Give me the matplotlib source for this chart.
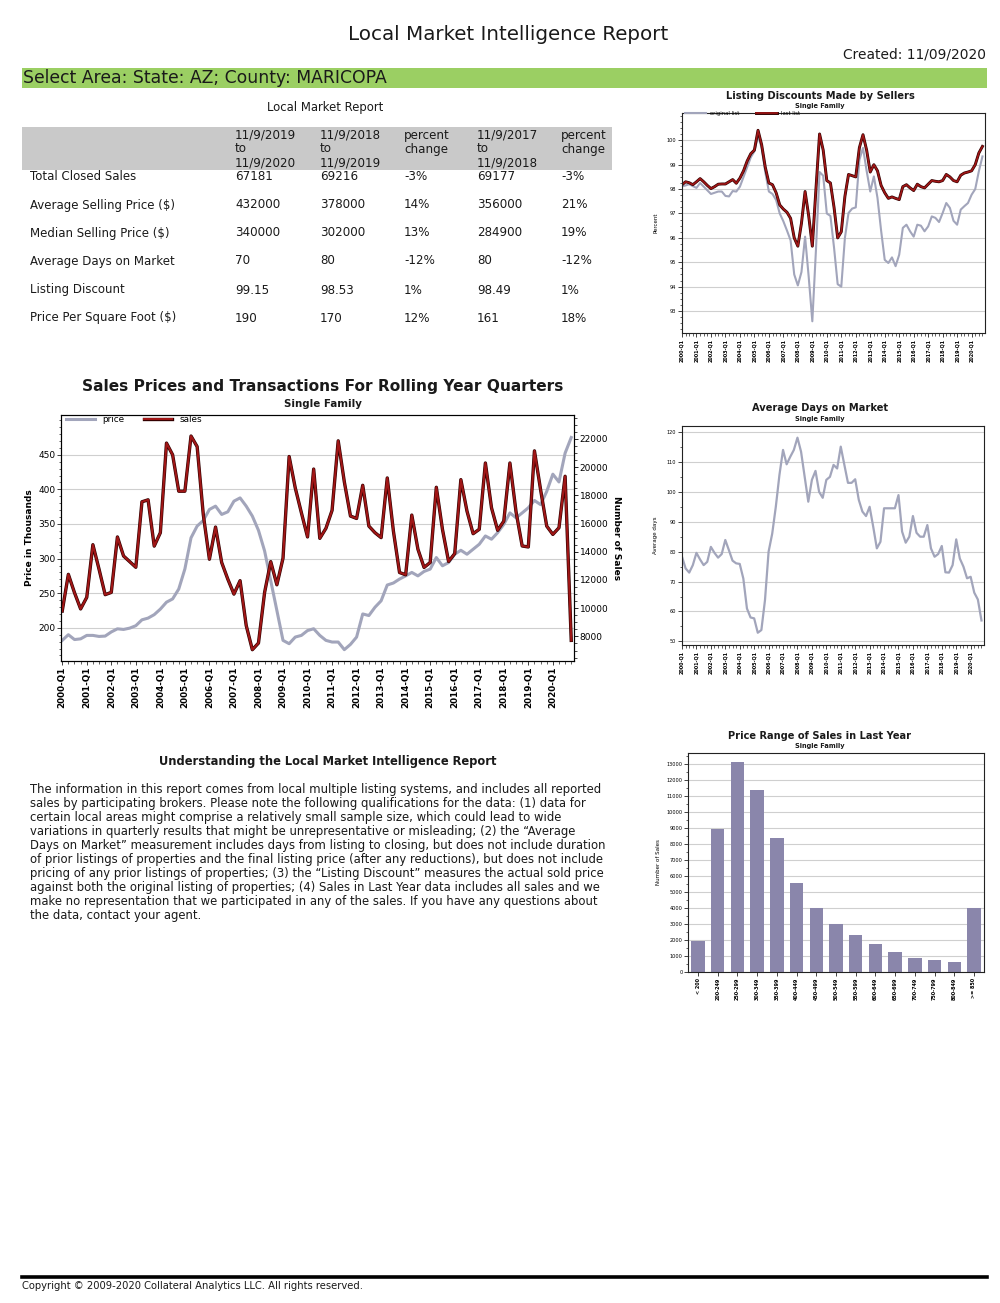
import matplotlib
matplotlib.use('Agg')
import matplotlib.pyplot as plt
import matplotlib.patheffects as pe
from matplotlib.patches import Rectangle
from matplotlib.lines import Line2D
from matplotlib.ticker import MultipleLocator
import numpy as np

# ---- data ----
year_ticks = [f'{y}-Q1' for y in range(2000, 2021)]

# rolling-year quarters 2000-Q1 .. 2020-Q4
price = [181.8, 190, 183, 184, 189, 189, 187.5, 188, 194, 198.5,
         197.6, 199.5, 203, 211.5, 214, 219, 227, 237, 241.7, 256,
         285, 330, 347, 355, 371, 375.8, 363.8, 367.6, 383, 387.7,
         375.8, 361.4, 340.8, 311, 268, 225, 181.8, 177, 186.6, 189,
         196, 198.6, 189, 181.8, 179.4, 179.4, 168.4, 176, 186.6, 220,
         217.7, 229.7, 239, 261.8, 264.7, 270.4, 275, 280, 275, 281.4,
         284.8, 301.5, 289.6, 294.3, 306.3, 312, 306.3, 313.5, 320.7, 332.7,
         328, 337.5, 349.4, 366, 359, 366, 373.4, 384, 378, 397,
         422, 410.7, 452.4, 475]
sales = [9800, 12400, 11100, 9950, 10770, 14500, 12770, 10960, 11120, 15050,
         13700, 13300, 12900, 17540, 17680, 14400, 15350, 21700, 20870, 18290,
         18290, 22200, 21450, 16640, 13470, 15750, 13240, 12060, 11000, 11950,
         8775, 7060, 7530, 11120, 13300, 11660, 13540, 20750, 18520, 16760,
         15050, 19860, 14950, 15660, 16930, 21860, 18950, 16530, 16360, 18710,
         15820, 15350, 15000, 19230, 15470, 12530, 12370, 16600, 14180, 12890,
         13240, 18570, 15590, 13310, 13870, 19110, 16880, 15280, 15590, 20290,
         17110, 15520, 16170, 20290, 16830, 14410, 14340, 21150, 18400, 15820,
         15230, 15700, 19350, 7720]

original_list = [98.11, 98.15, 98.20, 98.12, 98.05, 98.25, 98.10, 97.95, 97.80, 97.85,
                 97.90, 97.90, 97.72, 97.70, 97.92, 97.90, 98.10, 98.50, 98.90, 99.30,
                 99.55, 100.20, 99.69, 98.70, 97.90, 97.80, 97.55, 97.00, 96.68, 96.30,
                 95.90, 94.50, 94.05, 94.60, 96.05, 94.40, 92.58, 95.50, 98.70, 98.55,
                 97.00, 96.90, 95.60, 94.10, 94.00, 96.00, 97.02, 97.20, 97.25, 99.20,
                 99.69, 98.75, 97.90, 98.52, 97.64, 96.30, 95.10, 94.97, 95.20, 94.84,
                 95.31, 96.41, 96.54, 96.27, 96.05, 96.54, 96.50, 96.27, 96.47, 96.88,
                 96.82, 96.65, 97.02, 97.43, 97.23, 96.70, 96.54, 97.16, 97.30, 97.43,
                 97.77, 98.00, 98.73, 99.34]
last_list = [98.18, 98.30, 98.26, 98.18, 98.30, 98.43, 98.30, 98.15, 98.02, 98.10,
             98.20, 98.21, 98.21, 98.30, 98.39, 98.24, 98.45, 98.75, 99.15, 99.45,
             99.60, 100.41, 99.82, 98.90, 98.25, 98.18, 97.85, 97.35, 97.18, 97.05,
             96.80, 96.00, 95.66, 96.60, 97.90, 96.90, 95.66, 98.00, 100.26, 99.60,
             98.35, 98.25, 97.25, 96.00, 96.25, 97.70, 98.60, 98.55, 98.50, 99.70,
             100.23, 99.60, 98.70, 99.00, 98.75, 98.15, 97.85, 97.62, 97.68, 97.62,
             97.57, 98.10, 98.18, 98.05, 97.94, 98.20, 98.10, 98.05, 98.20, 98.35,
             98.32, 98.30, 98.35, 98.60, 98.50, 98.35, 98.30, 98.57, 98.66, 98.70,
             98.75, 99.00, 99.48, 99.75]

avg_days = [78.3, 74.4, 73.0, 75.5, 79.6, 77.4, 75.5, 76.6, 81.6, 79.6,
            78.0, 79.2, 83.9, 80.5, 77.0, 76.1, 75.9, 71.0, 61.0, 58.0,
            57.7, 52.9, 53.8, 63.8, 80.0, 86.0, 95.0, 105.6, 114.0, 109.2,
            111.7, 114.0, 118.1, 113.4, 105.0, 96.7, 104.0, 107.0, 100.0, 98.0,
            104.0, 105.0, 109.0, 107.8, 115.1, 109.0, 103.0, 103.0, 104.2, 97.3,
            93.4, 91.9, 95.0, 88.3, 81.1, 83.3, 94.5, 94.5, 94.5, 94.5,
            98.9, 86.7, 83.0, 85.0, 91.9, 86.3, 85.0, 85.0, 88.9, 81.1,
            78.3, 79.2, 81.9, 73.1, 73.0, 75.5, 84.1, 77.7, 75.0, 71.1,
            71.6, 66.3, 64.0, 57.0]

price_bins = ['< 200', '200-249', '250-299', '300-349', '350-399', '400-449',
              '450-499', '500-549', '550-599', '600-649', '650-699', '700-749',
              '750-799', '800-849', '>= 850']
bin_sales = [1950, 8950, 13100, 11350, 8350, 5550, 4000, 3000, 2300, 1750,
             1250, 900, 750, 600, 4000]

row_labels = ['Total Closed Sales', 'Average Selling Price ($)', 'Median Selling Price ($)',
              'Average Days on Market', 'Listing Discount', 'Price Per Square Foot ($)']
col_headers = [['11/9/2019', 'to', '11/9/2020'], ['11/9/2018', 'to', '11/9/2019'],
               ['percent', 'change'], ['11/9/2017', 'to', '11/9/2018'], ['percent', 'change']]
year_1 = ['67181', '432000', '340000', '70', '99.15', '190']
year_2 = ['69216', '378000', '302000', '80', '98.53', '170']
change_1 = ['-3%', '14%', '13%', '-12%', '1%', '12%']
year_3 = ['69177', '356000', '284900', '80', '98.49', '161']
change_2 = ['-3%', '21%', '19%', '-12%', '1%', '18%']

notes = [
    'The information in this report comes from local multiple listing systems, and includes all reported',
    'sales by participating brokers. Please note the following qualifications for the data: (1) data for',
    'certain local areas might comprise a relatively small sample size, which could lead to wide',
    'variations in quarterly results that might be unrepresentative or misleading; (2) the \u201cAverage',
    'Days on Market\u201d measurement includes days from listing to closing, but does not include duration',
    'of prior listings of properties and the final listing price (after any reductions), but does not include',
    'pricing of any prior listings of properties; (3) the \u201cListing Discount\u201d measures the actual sold price',
    'against both the original listing of properties; (4) Sales in Last Year data includes all sales and we',
    'make no representation that we participated in any of the sales. If you have any questions about',
    'the data, contact your agent.',
]

# ---- page setup ----
W, H = 1000, 1303
plt.rcParams['font.family'] = ['DejaVu Sans']
fig = plt.figure(figsize=(W / 100, H / 100), dpi=100)
fig.patch.set_facecolor('white')

GRAY = '#a2a5bb'
RED = '#a01616'
TXT = '#1a1a1a'


def box(l, t, r, b):
    return [l / W, 1 - b / H, (r - l) / W, (b - t) / H]


def put(x, y, s, **kw):
    kw.setdefault('color', TXT)
    kw.setdefault('va', 'center')
    fig.text(x / W, 1 - y / H, s, **kw)


def rect(l, t, r, b, color):
    fig.add_artist(Rectangle((l / W, 1 - b / H), (r - l) / W, (b - t) / H,
                             transform=fig.transFigure, facecolor=color,
                             edgecolor='none', zorder=0))


def red_fx(w):
    return [pe.Stroke(linewidth=w + 0.9, foreground='#300000'), pe.Normal()]


def style_axes(ax, lab_size):
    for s in ax.spines.values():
        s.set_color('#222222')
        s.set_linewidth(0.8)
    ax.grid(axis='y', color='#cfcfcf', linewidth=0.8)
    ax.set_axisbelow(True)
    ax.tick_params(axis='both', which='major', labelsize=lab_size, length=3, width=0.6,
                   color='#222222', pad=1)
    ax.tick_params(axis='both', which='minor', length=1.8, width=0.5, color='#222222')


def quarter_xaxis(ax, size):
    ax.set_xticks(np.arange(0, len(year_ticks) * 4, 4))
    ax.set_xticklabels(year_ticks, rotation=90, fontsize=size, fontweight='bold')
    ax.xaxis.set_minor_locator(MultipleLocator(1))


# ---- header ----
put(508, 35, 'Local Market Intelligence Report', ha='center', fontsize=14.3)
put(986, 55, 'Created: 11/09/2020', ha='right', fontsize=9.9)
rect(22, 68, 987, 88, '#9bcf63')
put(23, 78, 'Select Area: State: AZ; County: MARICOPA', ha='left', fontsize=12.4)
put(325, 107, 'Local Market Report', ha='center', fontsize=8.4)

# ---- table ----
rect(22, 127, 612, 170, '#c9c9c9')
col_x = [235, 320, 404, 477, 561]
for cx, lines in zip(col_x, col_headers):
    for k, ln in enumerate(lines):
        put(cx, 135 + 14 * k, ln, ha='left', fontsize=8.6)
row_y = [177, 205, 233, 261, 290, 318]
for ry, lab, a, b, c, d, e in zip(row_y, row_labels, year_1, year_2, change_1, year_3, change_2):
    put(30, ry, lab, ha='left', fontsize=8.5)
    for cx, v in zip(col_x, [a, b, c, d, e]):
        put(cx, ry, v, ha='left', fontsize=8.6)

q = np.arange(len(price))

# ---- main chart: prices and transactions ----
put(323, 387, 'Sales Prices and Transactions For Rolling Year Quarters', ha='center',
    fontsize=11.1, fontweight='bold')
put(323, 404, 'Single Family', ha='center', fontsize=7.4, fontweight='bold')
ax = fig.add_axes(box(61, 415, 574, 661))
ax.plot(q, price, color=GRAY, lw=2.2, label='price')
ax.set_ylim(152, 507.5)
ax.set_yticks([200, 250, 300, 350, 400, 450])
ax.yaxis.set_minor_locator(MultipleLocator(10))
ax.set_xlim(-0.2, 83.45)
style_axes(ax, 6.5)
quarter_xaxis(ax, 6.3)
ax.set_ylabel('Price in Thousands', fontsize=6.5, fontweight='bold', labelpad=3)
ax2 = ax.twinx()
ax2.plot(q, sales, color=RED, lw=1.5, label='sales', path_effects=red_fx(1.5))
ax2.set_ylim(6260, 23690)
ax2.set_yticks(np.arange(8000, 22001, 2000))
ax2.yaxis.set_minor_locator(MultipleLocator(500))
ax2.tick_params(axis='y', which='major', labelsize=6.5, length=3, width=0.6, pad=1)
ax2.tick_params(axis='y', which='minor', length=1.8, width=0.5)
ax2.set_ylabel('Number of Sales', fontsize=6.5, fontweight='bold', rotation=270, labelpad=9)
h1, l1 = ax.get_legend_handles_labels()
h2, l2 = ax2.get_legend_handles_labels()
ax2.legend(h1 + h2, l1 + l2, ncol=2, loc='upper left', bbox_to_anchor=(0.0, 1.02),
           frameon=False, fontsize=6.4, handlelength=3.2, columnspacing=2.2, borderaxespad=0.2)

# ---- listing discounts ----
put(820, 96, 'Listing Discounts Made by Sellers', ha='center', fontsize=7.1, fontweight='bold')
put(820, 106, 'Single Family', ha='center', fontsize=4.8, fontweight='bold')
axl = fig.add_axes(box(682, 113, 985, 333))
axl.plot(q, original_list, color=GRAY, lw=1.5, label='original list')
axl.plot(q, last_list, color=RED, lw=1.2, label='last list', path_effects=red_fx(1.2))
axl.set_ylim(92.1, 101.12)
axl.set_yticks(np.arange(93, 101))
axl.yaxis.set_minor_locator(MultipleLocator(0.25))
axl.set_xlim(0, 83.7)
style_axes(axl, 3.6)
quarter_xaxis(axl, 3.5)
axl.set_ylabel('Percent', fontsize=4, labelpad=6)
axl.legend(ncol=2, loc='upper left', bbox_to_anchor=(0.0, 1.025), frameon=False,
           fontsize=3.8, handlelength=4, columnspacing=3, borderaxespad=0.2)

# ---- average days on market ----
put(820, 408, 'Average Days on Market', ha='center', fontsize=7.1, fontweight='bold')
put(820, 419, 'Single Family', ha='center', fontsize=4.8, fontweight='bold')
axd = fig.add_axes(box(682, 426, 984, 645))
axd.plot(q, avg_days, color=GRAY, lw=1.6)
axd.set_ylim(48.8, 122)
axd.set_yticks(np.arange(50, 121, 10))
axd.yaxis.set_minor_locator(MultipleLocator(5))
axd.set_xlim(0, 83.7)
style_axes(axd, 3.6)
quarter_xaxis(axd, 3.5)
axd.set_ylabel('Average days', fontsize=4, labelpad=6)

# ---- price range histogram ----
put(820, 736, 'Price Range of Sales in Last Year', ha='center', fontsize=7.1, fontweight='bold')
put(820, 746, 'Single Family', ha='center', fontsize=4.8, fontweight='bold')
axh = fig.add_axes(box(688, 753, 984, 972))
axh.bar(np.arange(len(price_bins)), bin_sales, width=0.68, color='#8a86ab', zorder=2)
axh.set_xlim(-0.51, len(price_bins) - 0.49)
axh.set_ylim(0, 13660)
axh.set_yticks(np.arange(0, 13001, 1000))
axh.yaxis.set_minor_locator(MultipleLocator(500))
style_axes(axh, 3.6)
axh.set_xticks(np.arange(len(price_bins)))
axh.set_xticklabels(price_bins, rotation=90, fontsize=3.5, fontweight='bold')
axh.set_ylabel('Number of Sales', fontsize=4, labelpad=4)

# ---- explanatory text ----
put(328, 762, 'Understanding the Local Market Intelligence Report', ha='center',
    fontsize=8.3, fontweight='bold')
for k, line in enumerate(notes):
    put(30, 789 + 14 * k, line, ha='left', fontsize=8.4)

# ---- footer ----
fig.add_artist(Line2D([22 / W, 987 / W], [1 - 1277 / H] * 2, lw=2.6, color='black'))
put(22, 1286, 'Copyright \u00a9 2009-2020 Collateral Analytics LLC. All rights reserved.',
    ha='left', fontsize=7.2)

fig.savefig('out.png', dpi=100)
